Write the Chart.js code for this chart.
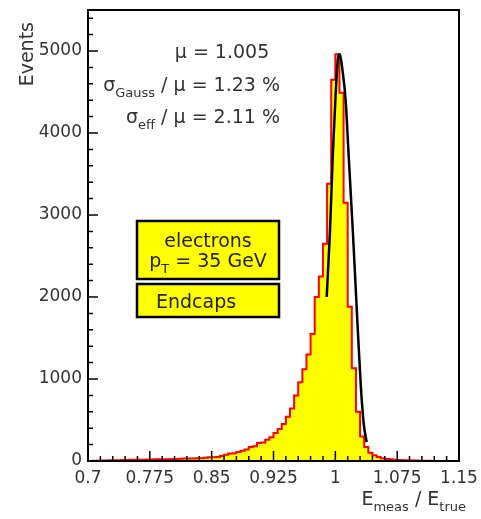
<!DOCTYPE html>
<html><head><meta charset="utf-8">
<script src="https://cdn.jsdelivr.net/npm/chart.js@4/dist/chart.umd.min.js"></script>
<style>html,body{margin:0;padding:0;background:#fff;}#wrap{width:481px;height:519px;}</style>
</head><body><div id="wrap"><canvas id="c" width="481" height="519"></canvas></div>
<script>
// ---- data ----
const binStart = 0.7;
const binWidth = 0.005;
const counts = [
  0,1,2,3,5,6,
  8,10,10,12,12,14,14,15,16,18,18,
  20,20,22,22,25,25,28,30,
  30,32,35,35,40,45,
  45,50,60,75,90,95,110,125,140,170,
  180,220,225,260,290,340,390,450,540,640,
  800,960,1120,1300,1550,2000,2250,2650,3380,4650,
  4960,4490,3150,1880,1130,600,300,170,100,70,
  50,35,25,20,15,12,10,8,6,5,
  4,3,2,1,1,0,0,0,0
];
const fitX = [0.9895,0.9935,0.997,1.0005,1.0035,1.0055,1.0085,1.0125,1.0155,1.0185,1.0215,1.0245,1.0275,1.031,1.0345,1.038];
const fitY = [2000,2800,3750,4500,4930,4960,4780,4400,3850,3300,2750,2150,1550,900,450,230];
const xTickValues = [0.7,0.775,0.85,0.925,1.0,1.075,1.15];
const xTickLabels = ['0.7','0.775','0.85','0.925','1','1.075','1.15'];
const yTickValues = [0,1000,2000,3000,4000,5000];
const yTickLabels = ['0','1000','2000','3000','4000','5000'];
const xMinorStep = 0.015;
const yMinorStep = 200;

// build histogram step points
const histPts = counts.map((c,i)=>({x: binStart + i*binWidth, y: c}));
histPts.push({x: binStart + counts.length*binWidth, y: counts[counts.length-1]});
const fitPts = fitX.map((x,i)=>({x:x, y:fitY[i]}));

const FONT = "'DejaVu Sans', 'Liberation Sans', Arial, sans-serif";
const TXT = '#333';

const framePlugin = {
  id:'frame',
  afterDatasetsDraw(chart){
    const ctx = chart.ctx, a = chart.chartArea;
    const xs = chart.scales.x, ys = chart.scales.y;
    ctx.save();
    // boxes
    const boxes = [[137,221,142,58],[137,284,142,33]];
    boxes.forEach(b=>{
      ctx.fillStyle='#ffff00'; ctx.fillRect(b[0],b[1],b[2],b[3]);
      ctx.strokeStyle='#000'; ctx.lineWidth=2.5; ctx.strokeRect(b[0],b[1],b[2],b[3]);
    });
    // ticks
    ctx.strokeStyle='#000'; ctx.lineWidth=1.5;
    ctx.beginPath();
    for (let v = xs.min; v <= xs.max + 1e-9; v += xMinorStep) {
      const px = xs.getPixelForValue(v);
      const major = xTickValues.some(t=>Math.abs(t-v)<1e-6);
      ctx.moveTo(px, a.bottom); ctx.lineTo(px, a.bottom - (major?10:5));
    }
    for (let v = 0; v <= ys.max + 1e-9; v += yMinorStep) {
      const py = ys.getPixelForValue(v);
      const major = yTickValues.includes(v);
      ctx.moveTo(a.left, py); ctx.lineTo(a.left + (major?10:5), py);
    }
    ctx.stroke();
    // frame
    ctx.lineWidth=2;
    ctx.strokeRect(a.left, a.top, a.right-a.left, a.bottom-a.top);
    ctx.restore();
  },
  afterDraw(chart){
    const ctx = chart.ctx;
    ctx.save();
    ctx.fillStyle = TXT;
    const MAIN = '19px ' + FONT, SUB = '13px ' + FONT;
    function rich(parts, x, y, align){
      let w = 0;
      parts.forEach(p=>{ctx.font = p.s?SUB:MAIN; w += ctx.measureText(p.t).width;});
      let cx = align==='right' ? x-w : (align==='center' ? x-w/2 : x);
      ctx.textAlign='left'; ctx.textBaseline='alphabetic';
      parts.forEach(p=>{ctx.font = p.s?SUB:MAIN; ctx.fillText(p.t, cx, y + (p.s?6:0)); cx += ctx.measureText(p.t).width;});
    }
    rich([{t:'\u03bc = 1.005'}], 222, 58, 'center');
    rich([{t:'\u03c3'},{t:'Gauss',s:1},{t:' / \u03bc = 1.23 %'}], 280, 91, 'right');
    rich([{t:'\u03c3'},{t:'eff',s:1},{t:' / \u03bc = 2.11 %'}], 280, 123, 'right');
    // box texts
    ctx.fillStyle = '#222';
    rich([{t:'electrons'}], 208, 247, 'center');
    rich([{t:'p'},{t:'T',s:1},{t:' = 35 GeV'}], 208, 267, 'center');
    rich([{t:'Endcaps'}], 156, 308, 'left');
    // axis titles
    ctx.fillStyle = TXT;
    rich([{t:'E'},{t:'meas',s:1},{t:' / E'},{t:'true',s:1}], 466, 505, 'right');
    ctx.save();
    ctx.translate(33, 22); ctx.rotate(-Math.PI/2);
    ctx.font = MAIN; ctx.textAlign='right'; ctx.textBaseline='alphabetic';
    ctx.fillText('Events', 0, 0);
    ctx.restore();
    ctx.restore();
  }
};

new Chart(document.getElementById('c'), {
  type:'line',
  data:{datasets:[
    {data: histPts, stepped:'after', borderColor:'#ff0000', borderWidth:2, backgroundColor:'#ffff00', fill:'origin', pointRadius:0, order:2},
    {data: fitPts, borderColor:'#000', borderWidth:2.5, fill:false, pointRadius:0, cubicInterpolationMode:'monotone', order:1}
  ]},
  options:{
    responsive:false, animation:false, devicePixelRatio:1,
    layout:{padding:{top:10,right:22,left:0,bottom:0}},
    plugins:{legend:{display:false}, tooltip:{enabled:false}},
    scales:{
      x:{type:'linear', min:0.7, max:1.15,
        grid:{display:false, drawTicks:false}, border:{display:false},
        afterBuildTicks:s=>{s.ticks = xTickValues.map(v=>({value:v}));},
        afterFit:s=>{s.height=58; s.paddingLeft=0; s.paddingRight=0;},
        ticks:{autoSkip:false, maxRotation:0, minRotation:0, padding:7, color:TXT,
          font:{family:FONT, size:17}, callback:(v,i)=>xTickLabels[i]}},
      y:{type:'linear', min:0, max:5500,
        grid:{display:false, drawTicks:false}, border:{display:false},
        afterBuildTicks:s=>{s.ticks = yTickValues.map(v=>({value:v}));},
        afterFit:s=>{s.width=88; s.paddingTop=0; s.paddingBottom=0;},
        ticks:{autoSkip:false, padding:6, color:TXT,
          font:{family:FONT, size:17}, callback:(v,i)=>yTickLabels[i]}}
    }
  },
  plugins:[framePlugin]
});
</script>
</body></html>
